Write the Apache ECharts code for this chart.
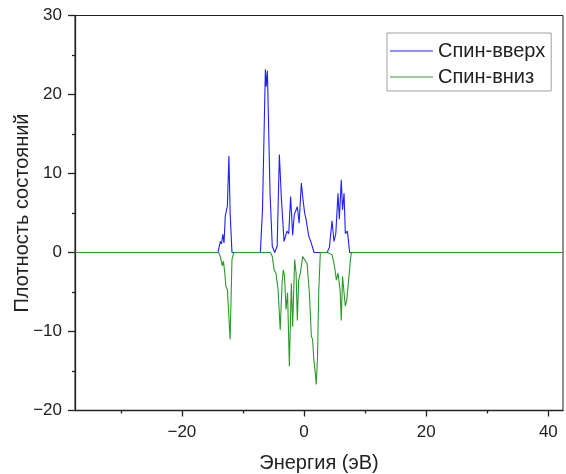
<!DOCTYPE html>
<html lang="ru">
  <head>
    <meta charset="UTF-8" />
    <title>DOS</title>
    <script src="https://cdn.jsdelivr.net/npm/echarts@6.0.0/dist/echarts.min.js"></script>
    <style>
      html, body { margin: 0; padding: 0; background: #fff; }
    </style>
  </head>
  <body>
    <div id="chart" style="width: 566px; height: 474px"></div>

    <script>
      // энергия и плотность состояний, спин вверх
      var upX = [-37.5, -14.1, -13.7, -13.5, -13.3, -13.1, -12.9, -12.55, -12.3, -12.1, -11.8,
        -7.15, -6.8, -6.33, -6.2, -6.0, -5.8, -5.57, -5.2, -4.8, -4.4, -4.04, -3.7, -3.27, -2.8,
        -2.5, -2.2, -1.86, -1.6, -1.3, -1.1, -0.8, -0.44, -0.17, 0.1, 0.33, 0.76, 1.1, 1.3, 1.64,
        3.76, 4.14, 4.58, 4.9, 5.2, 5.56, 5.78, 6.1, 6.3, 6.55, 6.76, 7.1, 7.47, 42.4]
      var upY = [0, 0, 1.4, 1.1, 2.3, 1.2, 4.6, 5.9, 12.2, 5.0, 0,
        0, 5.4, 23.2, 21, 23, 23, 7.6, 0.8, 0, 0.8, 12.4, 6.7, 1.4, 2.7,
        2.4, 7.1, 2.2, 4.8, 5.0, 5.8, 3.7, 8.8, 6.7, 5.0, 4.2, 2.1, 1.4, 1.6, 0,
        0, 0.6, 4.0, 1.4, 2.4, 7.5, 4.2, 9.2, 5.4, 7.5, 2.4, 2.7, 0, 0]

      // спин вниз
      var downX = [-37.5, -14.0, -13.7, -13.4, -13.2, -13.0, -12.8, -12.55, -12.35, -12.1, -11.8, -11.5,
        -5.5, -5.2, -4.9, -4.6, -4.25, -3.9, -3.6, -3.4, -3.2, -2.95, -2.7, -2.4, -2.08, -1.86,
        -1.54, -1.3, -1.1, -0.88, -0.6, -0.22, 0.1, 0.5, 0.87, 1.2, 1.4, 1.6, 1.85, 2.0, 2.2,
        2.4, 2.67, 3.9, 4.6, 5.0, 5.3, 5.56, 5.9, 6.1, 6.3, 6.55, 6.76, 7.0, 7.3, 7.6, 7.76, 42.4]
      var downY = [0, 0, -0.5, -1.7, -1.1, -2.4, -4.3, -4.7, -4.5, -11.0, -0.9, 0,
        0, -0.5, -2.2, -2.6, -4.7, -9.8, -3.9, -2.2, -3.0, -7.2, -5.1, -14.4, -3.9, -9.4,
        -0.9, -2.6, -8.6, -3.5, -2.6, -0.5, -0.3, -1.4, -5.1, -10.6, -11.0, -13.5, -15.3, -16.7, -13.5,
        -5.1, 0, 0, -0.3, -1.8, -3.5, -2.6, -4.7, -8.6, -3.0, -5.1, -6.8, -6.0, -3.5, -0.9, 0, 0]

      var xMajor = [-20, 0, 20, 40]
      var xMinor = [-30, -10, 10, 30]
      var seriesNames = ["Спин-вверх", "Спин-вниз"]

      function pairs(xs, ys) {
        var out = []
        for (let i = 0; i < xs.length; i++) {
          out.push([xs[i], ys[i]])
        }
        return out
      }

      // минус как в оригинале
      function fmt(v) {
        return String(v).replace("-", "\u2212")
      }

      var font = "Liberation Sans, Arial, sans-serif"
      var ink = "#222"
      var mCharts = echarts.init(document.getElementById("chart"))

      var option = {
        animation: false,
        textStyle: { fontFamily: font },
        grid: {
          left: 75,
          right: 3,
          // полпикселя, чтобы нулевая линия ложилась ровно в строку пикселей
          top: 15.5,
          bottom: 63.5,
          outerBoundsMode: "none",
          containLabel: false,
          show: true,
          borderColor: ink,
          borderWidth: 1,
        },
        legend: {
          data: seriesNames,
          orient: "vertical",
          left: 387,
          top: 33,
          padding: [8, 6, 4, 3],
          icon: "rect",
          itemWidth: 43,
          itemHeight: 1.2,
          itemGap: 6,
          borderColor: "#a0a0a0",
          borderWidth: 1,
          textStyle: { fontSize: 20, lineHeight: 20, color: ink, fontFamily: font },
        },
        xAxis: [
          {
            type: "value",
            min: -37.5,
            max: 42.4,
            name: "Энергия (эВ)",
            nameLocation: "middle",
            nameGap: 43,
            nameMoveOverlap: false,
            nameTextStyle: { fontSize: 20, color: ink },
            splitLine: { show: false },
            axisLine: { onZero: false, lineStyle: { color: ink, width: 1.3 } },
            axisTick: { customValues: xMajor, length: 6, lineStyle: { color: ink, width: 1.3 } },
            axisLabel: { customValues: xMajor, fontSize: 17, color: ink, margin: 13, formatter: fmt },
          },
          {
            // мелкие деления
            type: "value",
            position: "bottom",
            min: -37.5,
            max: 42.4,
            splitLine: { show: false },
            axisLine: { show: false, onZero: false },
            axisTick: { customValues: xMinor, length: 3, lineStyle: { color: ink, width: 1.3 } },
            axisLabel: { show: false },
          },
        ],
        yAxis: {
          type: "value",
          min: -20,
          max: 30,
          interval: 10,
          name: "Плотность состояний",
          nameLocation: "middle",
          nameGap: 43,
          nameMoveOverlap: false,
          nameTextStyle: { fontSize: 20, color: ink },
          splitLine: { show: false },
          axisLine: { onZero: false, lineStyle: { color: ink, width: 1.3 } },
          axisTick: { length: 7, lineStyle: { color: ink, width: 1.3 } },
          minorTick: { show: true, splitNumber: 2, length: 3, lineStyle: { color: ink, width: 1.3 } },
          axisLabel: { fontSize: 17, color: ink, margin: 13, formatter: fmt },
        },
        series: [
          {
            name: seriesNames[0],
            type: "line",
            data: pairs(upX, upY),
            symbol: "none",
            lineStyle: { color: "#1f1fff", width: 1.1 },
            itemStyle: { color: "#1f1fff" },
          },
          {
            name: seriesNames[1],
            type: "line",
            data: pairs(downX, downY),
            symbol: "none",
            lineStyle: { color: "#2a9a2a", width: 1.1 },
            itemStyle: { color: "#2a9a2a" },
          },
        ],
      }

      mCharts.setOption(option)
    </script>
  </body>
</html>
